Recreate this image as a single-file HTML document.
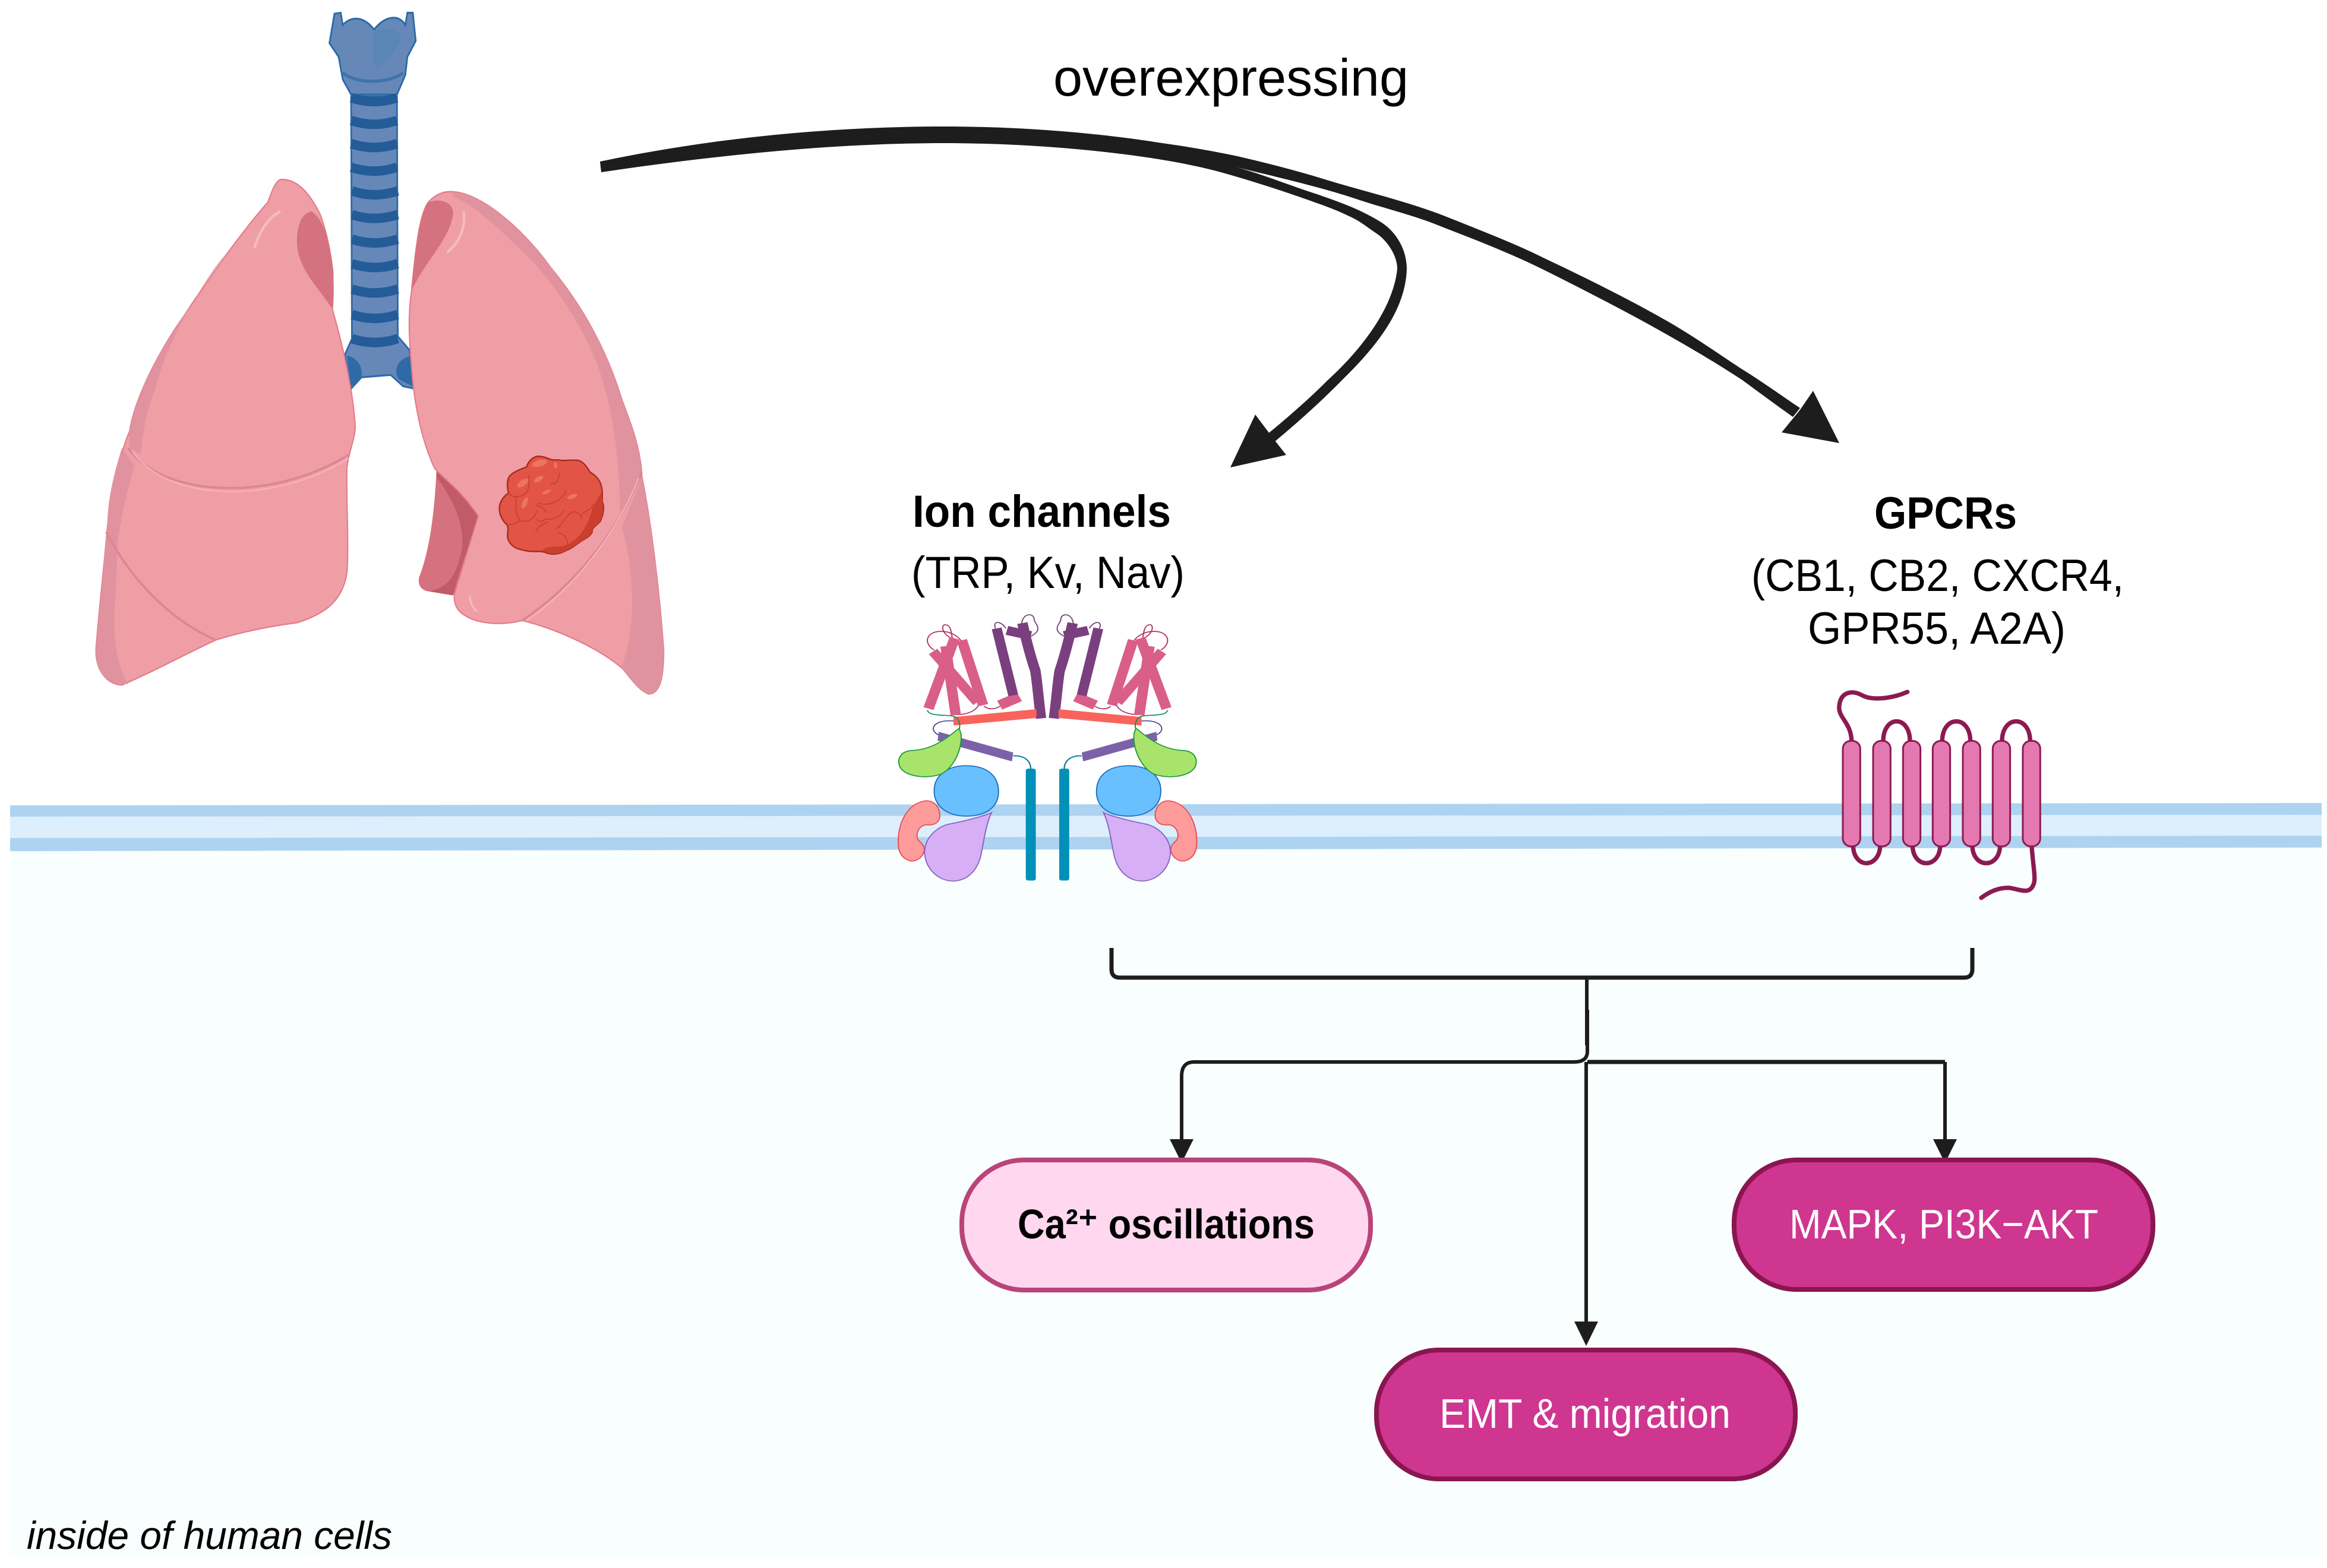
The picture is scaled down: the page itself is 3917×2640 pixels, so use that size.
<!DOCTYPE html>
<html><head><meta charset="utf-8"><style>
html,body{margin:0;padding:0;background:#fff}
svg{display:block}
text{font-family:"Liberation Sans",sans-serif}
</style></head><body>
<svg xmlns="http://www.w3.org/2000/svg" width="3917" height="2640" viewBox="0 0 3917 2640">
<rect width="3917" height="2640" fill="#fff"/>
<polygon points="17,1430 3907,1425 3903,2622 17,2620" fill="#f9feff"/>
<polygon points="17,1356 3908,1352 3908,1372 17,1375" fill="#aed3f1"/>
<polygon points="17,1375 3908,1372 3908,1407 17,1411" fill="#ddeefd"/>
<polygon points="17,1411 3908,1407 3908,1427 17,1433" fill="#aed3f1"/>

<!-- LUNGS -->
<g transform="translate(100,0) scale(.7015,.7653)">
 <!-- trachea -->
 <path d="M660 30 L675 28 L680 55 C700 35 730 35 755 65 C780 35 815 30 830 55 L835 28 L848 28 L855 90 L835 125 L830 165 L810 208 L700 208 L680 175 L670 125 L648 95 Z" fill="#6688b8" stroke="#2a6aa8" stroke-width="4"/>
 <path d="M755 70 C750 100 750 130 762 155 C790 130 815 110 820 75 C800 60 770 60 755 70Z" fill="#5a86b6"/>
 <path d="M680 160 C710 185 790 185 825 160" fill="none" stroke="#3d74ac" stroke-width="7"/>
 <path d="M700 212 L810 212 L812 740 L840 770 L852 855 L825 850 L795 825 L725 830 L700 855 L685 780 L702 745 Z" fill="#6688b8" stroke="#2a6aa8" stroke-width="4"/>
 <g fill="none" stroke="#245c98" stroke-width="21">
  <path d="M700 215Q755 232 810 215"/><path d="M700 265Q755 282 810 265"/><path d="M700 316Q755 333 810 316"/><path d="M700 368Q755 385 810 368"/><path d="M702 420Q755 437 812 420"/><path d="M702 472Q755 489 812 472"/><path d="M702 526Q755 543 812 526"/><path d="M702 580Q755 597 812 580"/><path d="M702 636Q755 653 812 636"/><path d="M702 692Q755 709 812 692"/><path d="M702 745Q755 762 812 745"/>
 </g>
 <path d="M690 782 C725 790 730 820 722 835 L700 850Z M845 782 C810 790 800 815 815 835 L848 850Z" fill="#2e6aa6"/>

 <!-- viewer-left lung -->
 <path d="M530 395 C570 392 600 425 625 470 C650 530 662 610 655 680 C680 760 705 860 710 940 C708 970 695 990 690 1030 C688 1100 695 1200 690 1260 C680 1320 640 1350 570 1370 C500 1378 430 1392 375 1408 C300 1440 220 1480 150 1507 C110 1505 85 1470 88 1425 C95 1340 108 1240 115 1160 C125 1080 150 985 168 950 C180 880 230 790 280 720 C340 640 410 540 500 445 C510 420 518 400 530 395Z" fill="#f09ea6" stroke="#e37b8a" stroke-width="3"/>
 <path d="M168 950 C180 880 230 790 280 720 C320 660 360 610 400 555 C330 640 260 750 232 850 C210 900 200 950 195 1000 L168 985Z" fill="#e0939e"/>
 <path d="M150 985 C125 1060 115 1110 115 1160 L108 1225 C100 1320 88 1400 88 1440 C90 1490 120 1505 165 1505 C140 1470 125 1400 135 1310 L140 1190 C150 1130 165 1070 180 1025Z" fill="#e0939e"/>
 <path d="M605 465 C632 480 650 530 658 600 L655 680 C620 630 570 590 570 530 C570 490 585 468 605 465Z" fill="#d5727f"/>
 <path d="M165 985 C240 1090 500 1110 695 1000" fill="none" stroke="#dd8593" stroke-width="5"/>
 <path d="M175 992 C250 1098 500 1118 695 1008" fill="none" stroke="#f4b4ba" stroke-width="3"/>
 <path d="M112 1170 C180 1290 280 1370 375 1408" fill="none" stroke="#dd8593" stroke-width="5"/>
 <path d="M468 545 C480 510 500 480 530 465" fill="none" stroke="#f5bcc2" stroke-width="6"/>

 <!-- viewer-right lung -->
 <path d="M905 1030 C960 1075 985 1100 1005 1135 L960 1270 L945 1310 L880 1300 C865 1295 860 1285 863 1270 C885 1220 900 1140 905 1030Z" fill="#d5727f"/>
 <path d="M905 1030 C960 1075 985 1100 1005 1135 L955 1275 L945 1310 L880 1300 C910 1300 945 1285 960 1230 C975 1190 970 1130 905 1050Z" fill="#c15b68"/>
 <path d="M945 422 C1010 425 1110 500 1180 590 C1270 690 1320 790 1350 880 C1375 940 1395 990 1398 1050 C1420 1150 1440 1300 1450 1430 C1450 1480 1445 1525 1415 1527 C1390 1520 1370 1490 1350 1470 C1300 1430 1200 1385 1110 1365 C1070 1375 1010 1375 975 1355 C945 1340 945 1315 950 1300 L1005 1135 C960 1075 930 1060 900 1030 C870 970 855 900 848 840 C840 760 835 700 845 640 C855 540 865 470 885 445 C905 425 925 420 945 422Z" fill="#f09ea6" stroke="#e37b8a" stroke-width="3"/>
 <path d="M945 422 C1010 425 1110 500 1180 590 C1270 690 1320 790 1350 880 C1375 940 1395 990 1398 1050 L1345 1130 C1345 1020 1330 900 1290 800 C1240 690 1170 600 1090 535 C1040 490 990 450 945 432Z" fill="#e0939e"/>
 <path d="M1350 1160 C1380 1260 1385 1380 1348 1470 C1370 1490 1390 1520 1415 1527 C1445 1525 1450 1480 1450 1430 C1440 1300 1420 1150 1398 1050Z" fill="#e0939e"/>
 <path d="M845 640 C855 540 865 470 885 445 C915 435 945 445 945 470 C935 530 880 570 845 640Z" fill="#d5727f"/>
 <path d="M1397 1040 C1350 1150 1250 1280 1110 1365" fill="none" stroke="#dd8593" stroke-width="5"/>
 <path d="M1390 1052 C1345 1155 1250 1285 1120 1366" fill="none" stroke="#f4b4ba" stroke-width="3"/>
 <path d="M970 465 C975 500 960 535 930 555" fill="none" stroke="#f5bcc2" stroke-width="6"/>
 <path d="M985 1310 C985 1325 990 1335 1002 1345" fill="none" stroke="#f5bcc2" stroke-width="4"/>
</g>

<!-- tumor -->
<g transform="translate(820,750) scale(.3333)">
 <path d="M250 55 C275 52 300 62 320 70 C340 78 355 68 375 76 C410 75 440 72 460 75 C490 85 505 110 520 135 C545 150 570 170 578 210 C585 240 580 265 582 285 C592 310 590 345 570 385 C555 400 540 410 530 425 C535 445 510 465 480 480 C455 495 430 520 400 530 C375 545 340 555 305 545 C285 535 270 535 245 535 C215 538 180 530 150 520 C120 505 100 480 103 450 C105 430 108 415 100 400 C80 385 60 350 62 315 C62 285 85 255 108 240 C100 210 100 180 110 160 C125 135 170 120 200 108 C205 85 225 62 250 55Z" fill="#e25546" stroke="#a8291c" stroke-width="7"/>
 <path d="M575 240 C585 265 582 285 586 310 C590 345 570 385 565 390 C550 402 535 415 530 428 C532 450 505 468 480 480 C455 495 430 520 400 530 C375 545 340 552 305 543 C290 535 282 530 275 530 C300 510 340 510 370 510 C410 505 440 480 470 450 C500 410 520 370 530 320 C545 290 560 265 575 240Z" fill="#cb3f2c"/>
 <g fill="none" stroke="#c63f2f" stroke-width="5" stroke-linecap="round">
  <path d="M105 240 C130 265 155 260 170 255 C200 245 215 235 210 150"/>
  <path d="M150 260 C140 300 145 350 165 380"/>
  <path d="M255 290 C290 305 360 300 400 230"/>
  <path d="M245 300 C260 310 290 310 300 340"/>
  <path d="M165 380 C200 390 240 375 250 330"/>
  <path d="M250 375 C270 390 290 380 295 370 C330 380 370 360 385 330"/>
  <path d="M105 400 C130 400 150 390 165 380"/>
  <path d="M245 435 C260 410 280 395 310 385"/>
  <path d="M350 420 C380 400 400 350 430 335 C460 335 475 350 480 370"/>
  <path d="M360 440 C400 450 415 490 400 520"/>
  <path d="M480 345 C500 330 530 320 535 300"/>
  <path d="M320 190 C340 200 360 190 365 140"/>
 </g>
 <g fill="#ec7561">
  <ellipse cx="180" cy="190" rx="32" ry="15" transform="rotate(-35 180 190)"/>
  <ellipse cx="260" cy="170" rx="26" ry="12" transform="rotate(-30 260 170)"/>
  <ellipse cx="300" cy="235" rx="22" ry="8" transform="rotate(-25 300 235)"/>
  <ellipse cx="430" cy="258" rx="26" ry="10" transform="rotate(-20 430 258)"/>
  <ellipse cx="190" cy="290" rx="12" ry="30" transform="rotate(25 190 290)"/>
  <ellipse cx="265" cy="90" rx="40" ry="16" transform="rotate(-15 265 90)"/>
  <ellipse cx="345" cy="100" rx="8" ry="16"/>
 </g>
</g>

<!-- big arrows -->
<g fill="#1d1d1d">
 <path d="M1010 272 C1200 232 1400 213 1589 213 C1720 213 1850 224 1950 240 C2000 247 2040 254 2083 263 C2130 274 2170 284 2217 298 C2290 321 2360 336 2430 363 C2490 387 2550 410 2600 435 C2670 468 2740 503 2800 537 C2850 565 2890 594 2933 622 C2970 645 3000 667 3030 687 L3018 702 C2990 682 2960 660 2933 640 C2890 612 2850 588 2800 560 C2740 526 2670 490 2600 455 C2550 430 2490 406 2430 383 C2380 362 2330 351 2283 335 C2230 317 2150 298 2083 282 L2083 298 C2040 285 2000 276 1950 268 C1850 252 1720 241 1589 241 C1400 241 1200 262 1012 290Z"/>
 <path d="M2083 282 C2130 295 2170 312 2217 327 C2240 335 2260 342 2283 352 C2300 360 2320 370 2333 380 C2355 398 2368 425 2368 453 C2366 520 2320 580 2263 636 C2220 680 2180 715 2144 745 L2132 732 C2165 705 2200 675 2235 640 C2290 590 2345 520 2352 453 C2352 430 2335 405 2317 393 C2305 385 2295 377 2283 370 C2260 358 2240 350 2217 342 C2170 325 2130 312 2083 298Z"/>
 <polygon points="3052,658 3096,746 2999,728 3030,690"/>
 <polygon points="2113,698 2143,738 2165,766 2071,787"/>
</g>

<!-- Ion channel -->
<g transform="translate(1450,1000) scale(.3827,.3316)">
 <g id="half">
  <g fill="none" stroke-width="5" stroke="#b0305e">
   <path d="M320 285 C270 250 285 190 350 190 C395 190 425 215 440 240"/>
   <path d="M395 225 C350 200 350 150 372 157 C395 160 395 200 400 225"/>
   <path d="M520 550 C510 600 450 615 420 612"/>
   <path d="M540 570 C560 590 590 585 610 570"/>
  </g>
  <g fill="none" stroke="#d95f88" stroke-width="46">
   <path d="M295 582 L410 225"/>
   <path d="M415 615 L370 265"/>
   <path d="M535 565 L442 235"/>
   <path d="M510 550 L315 292"/>
  </g>
  <path d="M608 565 L695 522" fill="none" stroke="#d95f88" stroke-width="50"/>
  <g fill="none" stroke="#7a3f7e" stroke-width="5">
   <path d="M590 175 C575 140 610 130 635 175"/>
   <path d="M705 150 C710 95 760 95 760 130 C760 150 805 180 745 215"/>
  </g>
  <g fill="none" stroke="#7a3f7e">
   <path d="M640 185 L745 212" stroke-width="46"/>
   <path d="M595 175 L668 515" stroke-width="44"/>
   <path d="M708 148 C730 260 750 340 765 390 C775 460 780 550 790 632" stroke-width="46"/>
  </g>
  <polygon points="405,625 770,585 770,630 405,668" fill="#f8645c"/>
  <path d="M405 645 C310 635 290 700 350 720" fill="none" stroke="#4a4a90" stroke-width="5"/>
  <polygon points="340,700 668,805 662,850 335,745" fill="#7b62a8"/>
  <path d="M668 822 C720 820 745 850 745 890" fill="none" stroke="#147f9c" stroke-width="6"/>
  <path d="M290 590 C300 630 400 605 420 630 C440 660 430 685 430 685" fill="none" stroke="#0f8f50" stroke-width="5"/>
  <path d="M285 1050 C320 1050 345 1080 345 1130 C340 1170 310 1175 285 1172 C255 1175 235 1215 250 1250 C275 1275 280 1290 275 1310 C265 1345 235 1360 215 1355 C180 1345 160 1310 162 1260 C160 1170 200 1060 285 1050Z" fill="#fd9c9a" stroke="#ee4a50" stroke-width="5"/>
  <path d="M572 1110 C560 1120 470 1150 380 1170 C320 1190 275 1250 278 1320 C285 1400 340 1458 405 1458 C470 1455 510 1400 525 1330 C540 1250 545 1180 572 1110Z" fill="#d6aff5" stroke="#8a62c0" stroke-width="5"/>
  <path d="M460 872 C560 872 605 930 603 1010 C600 1090 540 1128 460 1128 C380 1128 320 1080 320 1000 C320 920 380 872 460 872Z" fill="#68c0ff" stroke="#1c6cc0" stroke-width="5"/>
  <path d="M430 682 C395 710 330 790 220 795 C170 800 155 840 170 880 C195 930 290 940 350 915 C410 880 445 780 438 710Z" fill="#a8e46c" stroke="#1a9a3a" stroke-width="5"/>
  <rect x="723" y="887" width="44" height="568" rx="10" fill="#0090b8"/>
 </g>
 <use href="#half" transform="matrix(-1 0 0 1 1637 0)"/>
</g>

<!-- GPCR -->
<g transform="translate(3000,1120) scale(.3333)">
 <g fill="none" stroke="#8c1a50" stroke-width="22" stroke-linecap="round">
  <path d="M350 385 C350 290 280 265 288 205 C295 135 350 125 400 150 C450 180 550 170 632 135"/>
  <path d="M1260 915 C1265 1000 1282 1080 1270 1105 C1250 1160 1210 1135 1150 1125 C1090 1120 1040 1150 1005 1175"/>
  <path d="M510 385 C510 250 645 250 645 385"/><path d="M808 385 C808 250 950 250 950 385"/><path d="M1110 385 C1110 250 1252 250 1252 385"/>
  <path d="M358 910 C360 1030 490 1030 495 910"/><path d="M658 910 C660 1030 795 1030 798 910"/><path d="M960 910 C962 1030 1098 1030 1100 910"/>
 </g>
 <g fill="#e479b2" stroke="#8c1a50" stroke-width="9">
  <rect x="306" y="382" width="88" height="533" rx="40"/><rect x="459" y="382" width="88" height="533" rx="40"/><rect x="610" y="382" width="88" height="533" rx="40"/><rect x="760" y="382" width="88" height="533" rx="40"/><rect x="912" y="382" width="88" height="533" rx="40"/><rect x="1063" y="382" width="88" height="533" rx="40"/><rect x="1215" y="382" width="88" height="533" rx="40"/>
 </g>
</g>

<!-- bracket + connectors -->
<g fill="none" stroke="#1d1d1d">
 <path d="M1871 1596 V1632 Q1871 1646 1885 1646 H3306 Q3320 1646 3320 1632 V1596" stroke-width="7"/>
 <path d="M2671 1646 V1760" stroke-width="6"/>
 <path d="M2672 1700 V1770 Q2672 1788 2650 1788 H2010 Q1989 1788 1989 1812 V1925" stroke-width="6"/>
 <path d="M2672 1788 H3274" stroke-width="7"/>
 <path d="M3274 1788 V1925" stroke-width="6"/>
 <path d="M2670 1788 V2230" stroke-width="6"/>
</g>
<g fill="#1d1d1d">
 <polygon points="1969,1918 2009,1918 1989,1958"/>
 <polygon points="3254,1918 3294,1918 3274,1958"/>
 <polygon points="2650,2225 2690,2225 2670,2266"/>
</g>

<!-- boxes -->
<rect x="1619" y="1953" width="688" height="219" rx="105" fill="#ffd8f0" stroke="#b94479" stroke-width="8"/>
<rect x="2919" y="1953" width="705" height="218" rx="105" fill="#cf3690" stroke="#8a1650" stroke-width="8"/>
<rect x="2317" y="2273" width="705" height="217" rx="105" fill="#cf3690" stroke="#8a1650" stroke-width="8"/>

<!-- text -->
<g fill="#000">
 <text x="1773" y="161" font-size="88" textLength="598" lengthAdjust="spacingAndGlyphs">overexpressing</text>
 <text x="1536" y="887" font-size="76" font-weight="700" textLength="435" lengthAdjust="spacingAndGlyphs">Ion channels</text>
 <text x="1534" y="990" font-size="76" textLength="460" lengthAdjust="spacingAndGlyphs">(TRP, Kv, Nav)</text>
 <text x="3155" y="890" font-size="76" font-weight="700" textLength="240" lengthAdjust="spacingAndGlyphs">GPCRs</text>
 <text x="2948" y="995" font-size="76" textLength="627" lengthAdjust="spacingAndGlyphs">(CB1, CB2, CXCR4,</text>
 <text x="3043" y="1084" font-size="76" textLength="434" lengthAdjust="spacingAndGlyphs">GPR55, A2A)</text>
 <text x="1713" y="2085" font-size="70" font-weight="700" textLength="500" lengthAdjust="spacingAndGlyphs">Ca²⁺ oscillations</text>
 <text x="45" y="2608" font-size="66" font-style="italic" textLength="615" lengthAdjust="spacingAndGlyphs">inside of human cells</text>
</g>
<g fill="#fff">
 <text x="3012" y="2085" font-size="70" textLength="520" lengthAdjust="spacingAndGlyphs">MAPK, PI3K−AKT</text>
 <text x="2423" y="2404" font-size="70" textLength="490" lengthAdjust="spacingAndGlyphs">EMT &amp; migration</text>
</g>
</svg>
</body></html>
